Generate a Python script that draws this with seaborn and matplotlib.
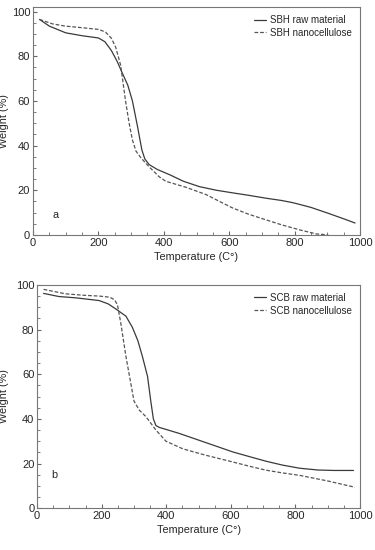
import matplotlib
matplotlib.use("Agg")
import matplotlib.pyplot as plt
import seaborn as sns
import pandas as pd
from matplotlib.ticker import MultipleLocator

# panel a: SBH
sbh_raw_t = [20, 50, 100, 150, 200, 220, 240, 258, 273, 290, 304, 319, 333, 342, 355, 380, 420, 460, 509, 560, 611, 660, 713, 760, 795, 850, 900, 950, 985]
sbh_raw_w = [96.5, 93.5, 90.5, 89.2, 88.2, 86.5, 82.5, 77.5, 72.5, 67, 60, 49, 38, 34, 31.5, 29.3, 26.8, 24, 21.6, 20, 18.8, 17.7, 16.4, 15.4, 14.4, 12.3, 9.8, 7.2, 5.3]
sbh_nano_t = [20, 60, 99, 150, 202, 222, 240, 253, 268, 283, 294, 304, 315, 330, 355, 386, 406, 468, 530, 570, 611, 660, 713, 760, 816, 867, 903]
sbh_nano_w = [96.5, 94.5, 93.5, 92.8, 92, 90.8, 88, 84, 76, 60, 50, 42.5, 37.5, 34.5, 30.5, 26, 24, 21.3, 18, 15, 12, 9.2, 6.7, 4.5, 2.2, 0.4, 0]

# panel b: SCB
scb_raw_t = [20, 67, 120, 192, 220, 244, 275, 295, 312, 326, 342, 352, 360, 368, 378, 440, 502, 560, 606, 660, 710, 760, 813, 870, 920, 980]
scb_raw_w = [96.2, 94.8, 94.2, 93, 91.5, 89.2, 86, 81, 75, 68, 59, 48, 40, 37, 36.2, 33.5, 30.4, 27.5, 25.2, 23, 21, 19.3, 17.9, 17.1, 16.9, 16.9]
scb_nano_t = [20, 88, 150, 192, 225, 240, 249, 259, 275, 290, 300, 316, 337, 368, 399, 451, 520, 606, 660, 710, 760, 813, 900, 984]
scb_nano_w = [98, 96, 95.3, 95, 94.5, 93.3, 91, 83, 68, 56, 48, 44, 41, 35, 30, 26.6, 23.8, 20.7, 18.7, 17, 15.8, 14.7, 12.2, 9.4]

labels_a = ["SBH raw material", "SBH nanocellulose"]
labels_b = ["SCB raw material", "SCB nanocellulose"]


def make_df(t1, w1, t2, w2, labels):
    d1 = pd.DataFrame({"T": t1, "W": w1, "s": labels[0]})
    d2 = pd.DataFrame({"T": t2, "W": w2, "s": labels[1]})
    return pd.concat([d1, d2], ignore_index=True)


sns.set_style("ticks")
plt.rcParams["font.family"] = ["Liberation Sans", "DejaVu Sans"]

fig = plt.figure(figsize=(3.75, 5.5), dpi=100)
ax_a = fig.add_axes([0.088, 0.573, 0.872, 0.414])
ax_b = fig.add_axes([0.099, 0.076, 0.861, 0.406])

panels = [
    (ax_a, make_df(sbh_raw_t, sbh_raw_w, sbh_nano_t, sbh_nano_w, labels_a), labels_a, "a", (60, 7.5), 102, -0.074),
    (ax_b, make_df(scb_raw_t, scb_raw_w, scb_nano_t, scb_nano_w, labels_b), labels_b, "b", (45, 13.5), 100, -0.086),
]

for ax, df, labels, tag, tag_pos, ytop, ylab_x in panels:
    sns.lineplot(data=df, x="T", y="W", hue="s", style="s",
                 palette={labels[0]: "#3a3a3a", labels[1]: "#555555"},
                 dashes={labels[0]: "", labels[1]: (3, 1.5)},
                 linewidth=0.9, ax=ax, legend=True)
    ax.set_xlim(0, 1000)
    ax.set_ylim(0, ytop)
    ax.xaxis.set_major_locator(MultipleLocator(200))
    ax.xaxis.set_minor_locator(MultipleLocator(50))
    ax.yaxis.set_major_locator(MultipleLocator(20))
    ax.yaxis.set_minor_locator(MultipleLocator(5))
    ax.tick_params(which="both", direction="in", labelsize=8, color="#666666", pad=2)
    ax.tick_params(which="major", length=3)
    ax.tick_params(which="minor", length=2)
    for sp in ax.spines.values():
        sp.set_color("#777777")
        sp.set_linewidth(0.8)
    ax.set_xlabel("Temperature (C°)", fontsize=7.8, labelpad=3)
    ax.set_ylabel("Weight (%)", fontsize=7.8)
    ax.yaxis.set_label_coords(ylab_x, 0.5)
    ax.text(tag_pos[0], tag_pos[1], tag, fontsize=7.8)
    ax.legend(loc="upper right", frameon=False, fontsize=7,
              handlelength=1.3, handletextpad=0.4, labelspacing=0.3,
              borderaxespad=0.4)

fig.savefig("out.png", dpi=100)
